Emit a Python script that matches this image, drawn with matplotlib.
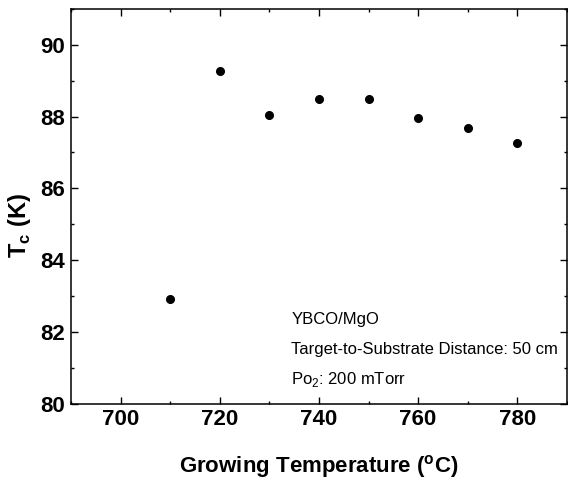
import numpy as np
from matplotlib import pyplot as plt
from matplotlib.ticker import MultipleLocator

# Tc vs growing temperature, YBCO/MgO
temp = [710, 720, 730, 740, 750, 760, 770, 780]
tc = [82.92, 89.28, 88.04, 88.49, 88.48, 87.97, 87.69, 87.27]

notes = ["YBCO/MgO",
         "Target-to-Substrate Distance: 50 cm",
         r"Po$_2$: 200 mTorr"]

plt.rcParams['font.family'] = ['Liberation Sans', 'DejaVu Sans']
plt.rcParams['mathtext.fontset'] = 'custom'
plt.rcParams['mathtext.rm'] = 'Liberation Sans'
plt.rcParams['mathtext.bf'] = 'Liberation Sans:bold'

fig = plt.figure(figsize=(5.68, 4.90), dpi=100)
ax = fig.add_axes([0.125, 0.176, 0.873, 0.806])

ax.plot(temp, tc, 'o', color='black', ms=5.5)

ax.set_xlim(690, 790)
ax.set_ylim(80, 91)
ax.xaxis.set_major_locator(MultipleLocator(20))
ax.xaxis.set_minor_locator(MultipleLocator(10))
ax.yaxis.set_major_locator(MultipleLocator(2))
ax.yaxis.set_minor_locator(MultipleLocator(1))
ax.tick_params(which='both', direction='in', top=True, right=True, width=1.0)
ax.tick_params(which='major', length=5, labelsize=16, pad=4)
ax.tick_params(which='minor', length=2.5)
for lab in ax.get_xticklabels() + ax.get_yticklabels():
    lab.set_fontweight('bold')
for s in ax.spines.values():
    s.set_linewidth(1.1)

ax.set_xlabel(r'Growing Temperature ($^{\mathbf{o}}$C)', fontsize=16,
              fontweight='bold', labelpad=16)
ax.set_ylabel(r'T$_{\mathbf{c}}$ (K)', fontsize=17, fontweight='bold')
ax.yaxis.set_label_coords(-0.077, 0.45)

ys = [82.35, 81.5, 80.67]
for t, y in zip(notes, ys):
    ax.text(734.4, y, t, fontsize=12, va='center', ha='left')

fig.savefig('out.png', dpi=100)
